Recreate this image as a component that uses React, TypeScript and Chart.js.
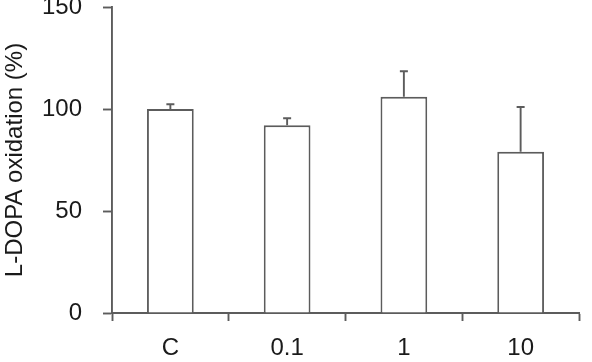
import React, { useEffect, useRef } from "react";
import { Chart, registerables } from "chart.js";

Chart.register(...registerables);

const categories = ["C", "0.1", "1", "10"];
const means = [100, 92, 106, 79];
const errorTops = [102.3, 95.5, 118.5, 101];
const yTicks = [0, 50, 100, 150];
const yTitle = "L-DOPA oxidation (%)";

const LINE = "#5c5c5c";
const TEXT = "#1a1a1a";
const FONT = "'Liberation Sans', Arial, sans-serif";
const LW = 1.9;

const errorBarPlugin = {
  id: "errorBars",
  afterDatasetsDraw(chart: any) {
    const ctx = chart.ctx;
    const meta = chart.getDatasetMeta(0);
    const y = chart.scales.y;
    ctx.save();
    ctx.strokeStyle = LINE;
    ctx.lineWidth = LW;
    meta.data.forEach((bar: any, i: number) => {
      const x = bar.x;
      const yTop = y.getPixelForValue(errorTops[i]);
      const yBase = y.getPixelForValue(means[i]);
      ctx.beginPath();
      ctx.moveTo(x, yBase);
      ctx.lineTo(x, yTop);
      ctx.moveTo(x - 4, yTop);
      ctx.lineTo(x + 4, yTop);
      ctx.stroke();
    });
    ctx.restore();
  },
};

export default function App() {
  const ref = useRef<HTMLCanvasElement | null>(null);
  useEffect(() => {
    if (!ref.current) return;
    const chart = new Chart(ref.current, {
      type: "bar",
      data: {
        labels: categories,
        datasets: [
          {
            data: means,
            backgroundColor: "#ffffff",
            borderColor: LINE,
            borderWidth: LW,
            borderSkipped: "bottom",
            barPercentage: 0.4,
            categoryPercentage: 1,
          },
        ],
      },
      options: {
        responsive: false,
        animation: false,
        layout: { padding: { top: 7, right: 13, left: 0, bottom: 0 } },
        plugins: { legend: { display: false }, tooltip: { enabled: false } },
        scales: {
          x: {
            grid: {
              display: true,
              drawOnChartArea: false,
              drawTicks: true,
              tickLength: 8,
              tickWidth: LW,
              tickColor: LINE,
              offset: true,
            },
            border: { display: true, color: LINE, width: LW },
            ticks: {
              color: TEXT,
              font: { family: FONT, size: 24 },
              padding: 13,
              maxRotation: 0,
            },
            afterFit(scale: any) {
              scale.height = 49;
              scale.paddingLeft = 0;
              scale.paddingRight = 0;
            },
          },
          y: {
            min: 0,
            max: 150,
            afterBuildTicks(scale: any) {
              scale.ticks = yTicks.map((v) => ({ value: v }));
            },
            grid: {
              display: true,
              drawOnChartArea: false,
              drawTicks: true,
              tickLength: 9,
              tickWidth: LW,
              tickColor: LINE,
            },
            border: { display: true, color: LINE, width: LW },
            ticks: {
              color: TEXT,
              font: { family: FONT, size: 24 },
              padding: 21,
            },
            title: {
              display: true,
              text: yTitle,
              color: TEXT,
              font: { family: FONT, size: 24 },
              padding: { top: 1, bottom: 0 },
            },
            afterFit(scale: any) {
              scale.width = 112;
              scale.paddingTop = 0;
              scale.paddingBottom = 0;
            },
          },
        },
      },
      plugins: [errorBarPlugin],
    });
    return () => chart.destroy();
  }, []);
  return (
    <div style={{ position: "absolute", left: 0, top: 0, width: 592, height: 362 }}>
      <canvas ref={ref} width={592} height={362} style={{ display: "block" }} />
    </div>
  );
}
